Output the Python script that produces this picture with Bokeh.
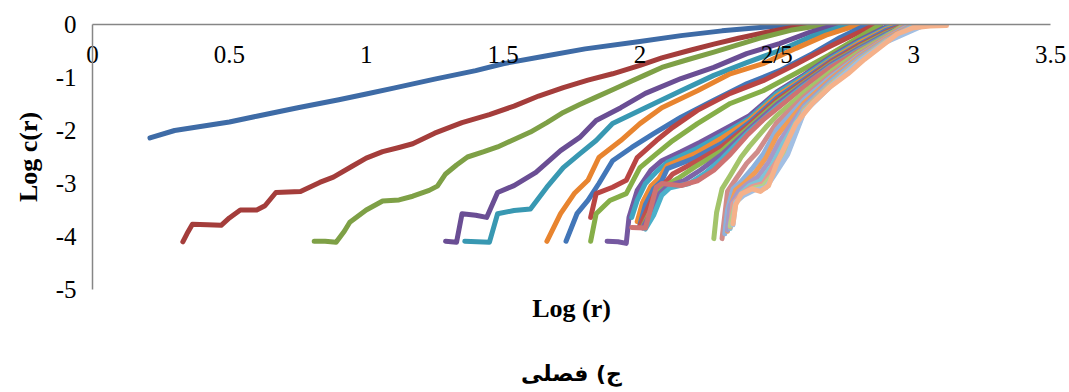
from bokeh.plotting import figure
from bokeh.models import Title, FixedTicker
from bokeh.embed import file_html
from bokeh.resources import INLINE

x_ticks = [0, 0.5, 1, 1.5, 2, 2.5, 3, 3.5]
x_tick_labels = ["0", "0.5", "1", "1.5", "2", "2/5", "3", "3.5"]
y_ticks = [0, -1, -2, -3, -4, -5]
y_tick_labels = ["0", "-1", "-2", "-3", "-4", "-5"]
x_title = "Log (r)"
y_title = "Log c(r)"
caption = "ج) فصلی"

x1 = [0.21, 0.3, 0.4, 0.5, 0.6, 0.75, 0.9, 1.0, 1.1, 1.25, 1.4, 1.5, 1.65, 1.8, 2.0, 2.15, 2.3, 2.45, 2.55, 2.7]
y1 = [-2.14, -2.0, -1.92, -1.84, -1.73, -1.57, -1.42, -1.31, -1.2, -1.03, -0.87, -0.74, -0.6, -0.46, -0.32, -0.21, -0.12, -0.05, -0.01, 0.0]
x2 = [0.33, 0.345, 0.365, 0.42, 0.47, 0.5, 0.54, 0.6, 0.63, 0.67, 0.76, 0.83, 0.88, 0.95, 1.0, 1.06, 1.12, 1.17, 1.25, 1.35, 1.45, 1.54, 1.63, 1.72, 1.81, 1.9, 2.0, 2.08, 2.18, 2.27, 2.36, 2.45, 2.55, 2.65]
y2 = [-4.1, -3.95, -3.77, -3.78, -3.79, -3.65, -3.5, -3.5, -3.42, -3.17, -3.15, -2.98, -2.88, -2.67, -2.52, -2.4, -2.32, -2.25, -2.05, -1.85, -1.7, -1.54, -1.35, -1.19, -1.05, -0.93, -0.77, -0.63, -0.49, -0.37, -0.26, -0.16, -0.06, 0.0]
x3 = [0.81, 0.85, 0.89, 0.92, 0.94, 1.0, 1.06, 1.12, 1.17, 1.23, 1.26, 1.29, 1.33, 1.37, 1.43, 1.48, 1.54, 1.6, 1.66, 1.72, 1.78, 1.84, 1.9, 1.96, 2.02, 2.08, 2.17, 2.27, 2.36, 2.45, 2.55, 2.68]
y3 = [-4.09, -4.09, -4.11, -3.9, -3.73, -3.5, -3.33, -3.31, -3.24, -3.13, -3.05, -2.82, -2.65, -2.5, -2.4, -2.31, -2.17, -2.03, -1.85, -1.66, -1.51, -1.37, -1.23, -1.09, -0.95, -0.81, -0.67, -0.52, -0.38, -0.24, -0.11, 0.0]
x4 = [1.29, 1.33, 1.35, 1.4, 1.44, 1.48, 1.54, 1.62, 1.71, 1.78, 1.84, 1.93, 2.02, 2.15, 2.27, 2.39, 2.51, 2.62, 2.72]
y4 = [-4.09, -4.11, -3.57, -3.6, -3.64, -3.17, -3.04, -2.79, -2.38, -2.13, -1.81, -1.57, -1.3, -1.02, -0.81, -0.55, -0.36, -0.15, 0.0]
x5 = [1.36, 1.45, 1.48, 1.54, 1.6, 1.66, 1.72, 1.78, 1.84, 1.9, 2.02, 2.15, 2.27, 2.39, 2.51, 2.63, 2.76]
y5 = [-4.09, -4.11, -3.57, -3.51, -3.48, -3.07, -2.7, -2.44, -2.19, -1.87, -1.57, -1.25, -0.96, -0.72, -0.49, -0.22, 0.0]
x6 = [1.66, 1.71, 1.76, 1.81, 1.85, 1.93, 2.0, 2.08, 2.21, 2.33, 2.45, 2.57, 2.68, 2.8]
y6 = [-4.09, -3.57, -3.19, -2.94, -2.51, -2.19, -1.87, -1.57, -1.25, -0.93, -0.74, -0.45, -0.2, 0.0]
x7 = [1.73, 1.77, 1.81, 1.85, 1.9, 1.97, 2.05, 2.15, 2.27, 2.39, 2.51, 2.63, 2.73, 2.83]
y7 = [-4.09, -3.57, -3.32, -3.0, -2.57, -2.32, -2.06, -1.75, -1.43, -1.12, -0.87, -0.55, -0.25, 0.0]
x8 = [1.82, 1.84, 1.9, 1.95, 1.99, 2.06, 2.12, 2.21, 2.33, 2.45, 2.57, 2.68, 2.78, 2.86]
y8 = [-3.64, -3.19, -3.07, -2.94, -2.51, -2.19, -1.94, -1.62, -1.3, -1.06, -0.75, -0.45, -0.2, 0.0]
x9 = [1.82, 1.84, 1.89, 1.95, 2.0, 2.06, 2.12, 2.21, 2.33, 2.45, 2.57, 2.69, 2.79, 2.88]
y9 = [-4.09, -3.57, -3.32, -3.19, -2.7, -2.44, -2.19, -1.87, -1.49, -1.25, -0.92, -0.58, -0.27, 0.0]
x10 = [1.88, 1.92, 1.95, 1.96, 1.99, 2.04, 2.08, 2.15, 2.22, 2.3, 2.4, 2.5, 2.6, 2.7, 2.8, 2.9]
y10 = [-4.09, -4.1, -4.13, -3.64, -3.13, -2.75, -2.57, -2.4, -2.22, -2.0, -1.72, -1.27, -0.95, -0.6, -0.3, -0.04]
x11 = [1.97, 1.99, 2.02, 2.06, 2.1, 2.2, 2.3, 2.4, 2.5, 2.6, 2.7, 2.8, 2.9, 2.94]
y11 = [-3.64, -3.32, -3.0, -2.78, -2.6, -2.36, -2.08, -1.77, -1.3, -0.98, -0.63, -0.33, -0.07, 0.0]
x12 = [1.99, 2.01, 2.04, 2.07, 2.1, 2.2, 2.3, 2.4, 2.5, 2.6, 2.7, 2.8, 2.9, 2.95]
y12 = [-3.72, -3.35, -3.05, -2.9, -2.66, -2.44, -2.14, -1.81, -1.35, -1.01, -0.66, -0.35, -0.09, 0.0]
x13 = [2.0, 2.02, 2.05, 2.08, 2.1, 2.2, 2.3, 2.4, 2.5, 2.6, 2.7, 2.8, 2.9, 2.96]
y13 = [-3.78, -3.4, -3.1, -2.95, -2.72, -2.52, -2.24, -1.85, -1.39, -1.04, -0.68, -0.38, -0.11, 0.0]
x14 = [2.0, 2.03, 2.06, 2.09, 2.12, 2.2, 2.3, 2.4, 2.5, 2.6, 2.7, 2.8, 2.9, 2.97]
y14 = [-3.8, -3.45, -3.12, -3.0, -2.82, -2.6, -2.3, -1.89, -1.43, -1.07, -0.7, -0.4, -0.14, 0.0]
x15 = [2.01, 2.04, 2.07, 2.1, 2.14, 2.2, 2.3, 2.4, 2.5, 2.6, 2.7, 2.8, 2.9, 2.98]
y15 = [-3.82, -3.5, -3.15, -3.02, -2.9, -2.69, -2.38, -1.93, -1.47, -1.1, -0.73, -0.43, -0.16, 0.0]
x16 = [2.01, 2.04, 2.07, 2.1, 2.16, 2.22, 2.3, 2.4, 2.5, 2.6, 2.7, 2.8, 2.9, 2.98]
y16 = [-3.84, -3.55, -3.2, -3.05, -2.95, -2.75, -2.45, -1.97, -1.51, -1.12, -0.75, -0.45, -0.18, 0.0]
x17 = [2.02, 2.05, 2.08, 2.11, 2.18, 2.24, 2.3, 2.4, 2.5, 2.6, 2.7, 2.8, 2.9, 2.99]
y17 = [-3.86, -3.6, -3.22, -3.08, -3.0, -2.8, -2.53, -2.01, -1.56, -1.15, -0.78, -0.48, -0.2, 0.0]
x18 = [1.97, 2.02, 2.06, 2.08, 2.15, 2.21, 2.27, 2.33, 2.39, 2.45, 2.51, 2.57, 2.63, 2.7, 2.8, 2.9, 3.0]
y18 = [-3.83, -3.84, -3.07, -3.0, -3.04, -2.95, -2.75, -2.45, -2.1, -1.8, -1.55, -1.3, -1.05, -0.8, -0.5, -0.22, 0.0]
x19 = [2.27, 2.28, 2.3, 2.33, 2.37, 2.4, 2.46, 2.5, 2.6, 2.7, 2.8, 2.9, 2.97]
y19 = [-4.04, -3.55, -3.1, -2.85, -2.5, -2.3, -1.94, -1.72, -1.28, -0.88, -0.52, -0.22, 0.0]
x20 = [2.3, 2.31, 2.32, 2.35, 2.39, 2.43, 2.5, 2.6, 2.7, 2.8, 2.9, 2.98]
y20 = [-4.04, -3.6, -3.15, -2.92, -2.62, -2.4, -1.85, -1.36, -0.94, -0.56, -0.24, 0.0]
x21 = [2.31, 2.32, 2.34, 2.37, 2.41, 2.45, 2.5, 2.6, 2.7, 2.8, 2.9, 2.99]
y21 = [-3.95, -3.5, -3.1, -2.96, -2.72, -2.45, -1.98, -1.42, -0.98, -0.59, -0.26, 0.0]
x22 = [2.32, 2.33, 2.35, 2.38, 2.42, 2.46, 2.5, 2.6, 2.7, 2.8, 2.9, 3.0]
y22 = [-3.9, -3.45, -3.12, -3.0, -2.8, -2.52, -2.1, -1.48, -1.02, -0.61, -0.27, 0.0]
x23 = [2.32, 2.33, 2.36, 2.39, 2.43, 2.47, 2.51, 2.6, 2.7, 2.8, 2.9, 3.0]
y23 = [-3.88, -3.42, -3.15, -3.02, -2.88, -2.6, -2.2, -1.53, -1.05, -0.63, -0.29, -0.01]
x24 = [2.33, 2.34, 2.37, 2.4, 2.44, 2.48, 2.52, 2.6, 2.7, 2.8, 2.9, 3.01]
y24 = [-3.85, -3.4, -3.18, -3.04, -2.95, -2.68, -2.28, -1.57, -1.08, -0.65, -0.3, 0.0]
x25 = [2.33, 2.34, 2.37, 2.41, 2.45, 2.48, 2.53, 2.6, 2.7, 2.8, 2.9, 3.02]
y25 = [-3.82, -3.38, -3.2, -3.06, -3.0, -2.74, -2.35, -1.6, -1.11, -0.67, -0.31, 0.0]
x26 = [2.33, 2.35, 2.38, 2.42, 2.45, 2.49, 2.54, 2.6, 2.7, 2.8, 2.9, 3.03]
y26 = [-3.8, -3.36, -3.2, -3.08, -3.05, -2.8, -2.4, -1.63, -1.13, -0.69, -0.32, -0.01]
x27 = [2.34, 2.35, 2.38, 2.42, 2.46, 2.49, 2.54, 2.6, 2.7, 2.8, 2.9, 3.04]
y27 = [-3.78, -3.35, -3.22, -3.12, -3.08, -2.85, -2.45, -1.65, -1.15, -0.7, -0.33, -0.01]
x28 = [2.34, 2.35, 2.37, 2.41, 2.44, 2.47, 2.5, 2.54, 2.57, 2.63, 2.69, 2.76, 2.82, 2.88, 2.94, 3.0, 3.06, 3.12]
y28 = [-3.76, -3.4, -3.2, -3.1, -3.15, -3.04, -2.62, -2.19, -1.87, -1.49, -1.2, -0.93, -0.66, -0.42, -0.18, -0.06, -0.03, -0.02]

colors = ["#3E6BA6", "#A43D3B", "#7EA046", "#6A4E94", "#3898B2", "#E8842F",
          "#4276B8", "#B94543", "#86AE48", "#7558A0", "#3FA6C2", "#EE8B35",
          "#4A7EC0", "#C0504D", "#8DB650", "#7E64A8", "#4BB0CA", "#CE7272",
          "#A3C46A", "#D08C8A", "#8DB1DC", "#F19C55", "#A899C6", "#7FC4D6",
          "#E39A92", "#B6D08A", "#A2BFE3", "#F5B18A"]

xs = [x1, x2, x3, x4, x5, x6, x7, x8, x9, x10, x11, x12, x13, x14,
      x15, x16, x17, x18, x19, x20, x21, x22, x23, x24, x25, x26, x27, x28]
ys = [y1, y2, y3, y4, y5, y6, y7, y8, y9, y10, y11, y12, y13, y14,
      y15, y16, y17, y18, y19, y20, y21, y22, y23, y24, y25, y26, y27, y28]

SERIF = "Liberation Serif"
AXIS_GRAY = "#868686"

p = figure(frame_width=958, frame_height=265, x_range=(0, 3.5), y_range=(-5, 0),
           x_axis_location="above",
           output_backend="svg", toolbar_location=None,
           min_border_left=92, min_border_top=24, min_border_right=18, min_border_bottom=0)
p.grid.visible = False
p.outline_line_color = None

for xv, yv, c in zip(xs, ys, colors):
    p.line(xv, yv, line_color=c, line_width=5, line_join="round", line_cap="round")

xa = p.xaxis[0]
xa.ticker = FixedTicker(ticks=x_ticks)
xa.major_label_overrides = dict(zip(x_ticks, x_tick_labels))
xa.major_tick_out = 0
xa.major_tick_in = 0
xa.minor_tick_line_color = None
xa.axis_line_color = AXIS_GRAY
xa.axis_line_width = 1.5
xa.major_label_standoff = -43
xa.major_label_text_font = SERIF
xa.major_label_text_font_size = "25px"
xa.major_label_text_color = "black"

ya = p.yaxis[0]
ya.ticker = FixedTicker(ticks=y_ticks)
ya.major_label_overrides = dict(zip(y_ticks, y_tick_labels))
ya.major_tick_out = 0
ya.major_tick_in = 0
ya.minor_tick_line_color = None
ya.axis_line_color = AXIS_GRAY
ya.axis_line_width = 1.5
ya.major_label_standoff = 16
ya.major_label_text_font = SERIF
ya.major_label_text_font_size = "25px"
ya.major_label_text_color = "black"
ya.axis_label = y_title
ya.axis_label_text_font = SERIF
ya.axis_label_text_font_size = "26px"
ya.axis_label_text_font_style = "bold"
ya.axis_label_text_color = "black"
ya.axis_label_standoff = 10

t1 = Title(text=x_title, align="center", text_font=SERIF, text_font_size="26px",
           text_font_style="bold", text_color="black", standoff=4)
p.add_layout(t1, "below")
t2 = Title(text=caption, align="center", text_font="DejaVu Sans", text_font_size="22px",
           text_font_style="bold", text_color="black", standoff=68)
p.add_layout(t2, "below")

open("out.html", "w").write(file_html(p, INLINE))
